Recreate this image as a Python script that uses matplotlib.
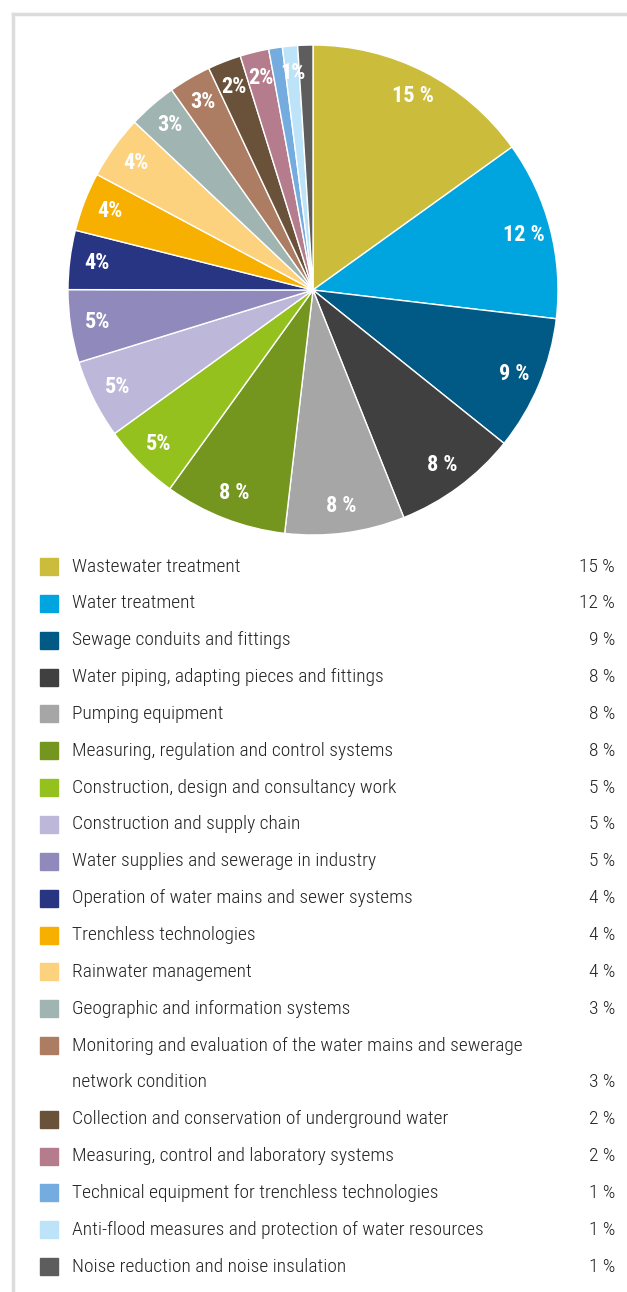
import matplotlib.pyplot as plt
from matplotlib.patches import Rectangle
from matplotlib.lines import Line2D

# categories, clockwise from the top of the pie
categories = [
    'Wastewater treatment',
    'Water treatment',
    'Sewage conduits and fittings',
    'Water piping, adapting pieces and fittings',
    'Pumping equipment',
    'Measuring, regulation and control systems',
    'Construction, design and consultancy work',
    'Construction and supply chain',
    'Water supplies and sewerage in industry',
    'Operation of water mains and sewer systems',
    'Trenchless technologies',
    'Rainwater management',
    'Geographic and information systems',
    'Monitoring and evaluation of the water mains and sewerage\nnetwork condition',
    'Collection and conservation of underground water',
    'Measuring, control and laboratory systems',
    'Technical equipment for trenchless technologies',
    'Anti-flood measures and protection of water resources',
    'Noise reduction and noise insulation',
]
# slice sizes (percent)
shares = [15.1, 11.8, 8.9, 8.2, 7.9, 8.1, 5.1, 5.2, 4.8, 3.9,
          3.9, 4.2, 3.2, 2.8, 2.2, 1.9, 0.9, 1.0, 1.0]
# labels as printed
legend_values = ['15 %', '12 %', '9 %', '8 %', '8 %', '8 %', '5 %', '5 %', '5 %', '4 %',
                 '4 %', '4 %', '3 %', '3 %', '2 %', '2 %', '1 %', '1 %', '1 %']
pie_labels = ['15 %', '12 %', '9 %', '8 %', '8 %', '8 %', '5%', '5%', '5%', '4%',
              '4%', '4%', '3%', '3%', '2%', '2%', '', '1%', '']

colors = ['#CBBD3B', '#00A5DF', '#005A85', '#404040', '#A6A6A6', '#74961E',
          '#95C11F', '#BDB8D9', '#8F89BC', '#283583', '#F8B000', '#FDD27F',
          '#A0B5B2', '#AC7D62', '#6A523A', '#B47C8C', '#74ACDF', '#BDE3F8',
          '#5D5D5D']

FONT = ['Roboto Condensed', 'DejaVu Sans']

W, H = 627, 1292
fig = plt.figure(figsize=(W / 100, H / 100), dpi=100)

# pie, centre (313, 290) px, radius 245 px
cx, cy, r = 313, 290, 245
ax = fig.add_axes([(cx - r) / W, 1 - (cy + r) / H, 2 * r / W, 2 * r / H])
wedges, texts = ax.pie(shares, colors=colors, startangle=90, counterclock=False,
                       labels=pie_labels, labeldistance=0.89,
                       wedgeprops=dict(edgecolor='white', linewidth=1))
for t in texts:
    t.set_color('white')
    t.set_fontsize(16)
    t.set_fontweight('bold')
    t.set_family(FONT)
    t.set_ha('center')
    t.set_va('center')
ax.set_xlim(-1, 1)
ax.set_ylim(-1, 1)
ax.set_aspect('equal')
ax.axis('off')

# legend drawn in pixel coordinates
lg = fig.add_axes([0, 0, 1, 1])
lg.set_xlim(0, W)
lg.set_ylim(H, 0)
lg.axis('off')

y = 566.5
step = 36.85
for name, val, col in zip(categories, legend_values, colors):
    nlines = name.count('\n') + 1
    lg.add_patch(Rectangle((40, y - 8.5), 18, 17, color=col))
    for i, line in enumerate(name.split('\n')):
        lg.text(72, y + i * step, line, fontsize=14, color='#222222', fontweight='light',
                family=FONT, va='center', ha='left')
    lg.text(615, y + (nlines - 1) * step, val, fontsize=14, color='#222222', fontweight='light',
            family=FONT, va='center', ha='right')
    y += nlines * step

# light grey frame on the top and left
lg.add_line(Line2D([13, W], [13.5, 13.5], color='#DCDCDC', linewidth=2.5))
lg.add_line(Line2D([13, 13], [13.5, H], color='#DCDCDC', linewidth=2.5))

fig.savefig('out.png', dpi=100)
